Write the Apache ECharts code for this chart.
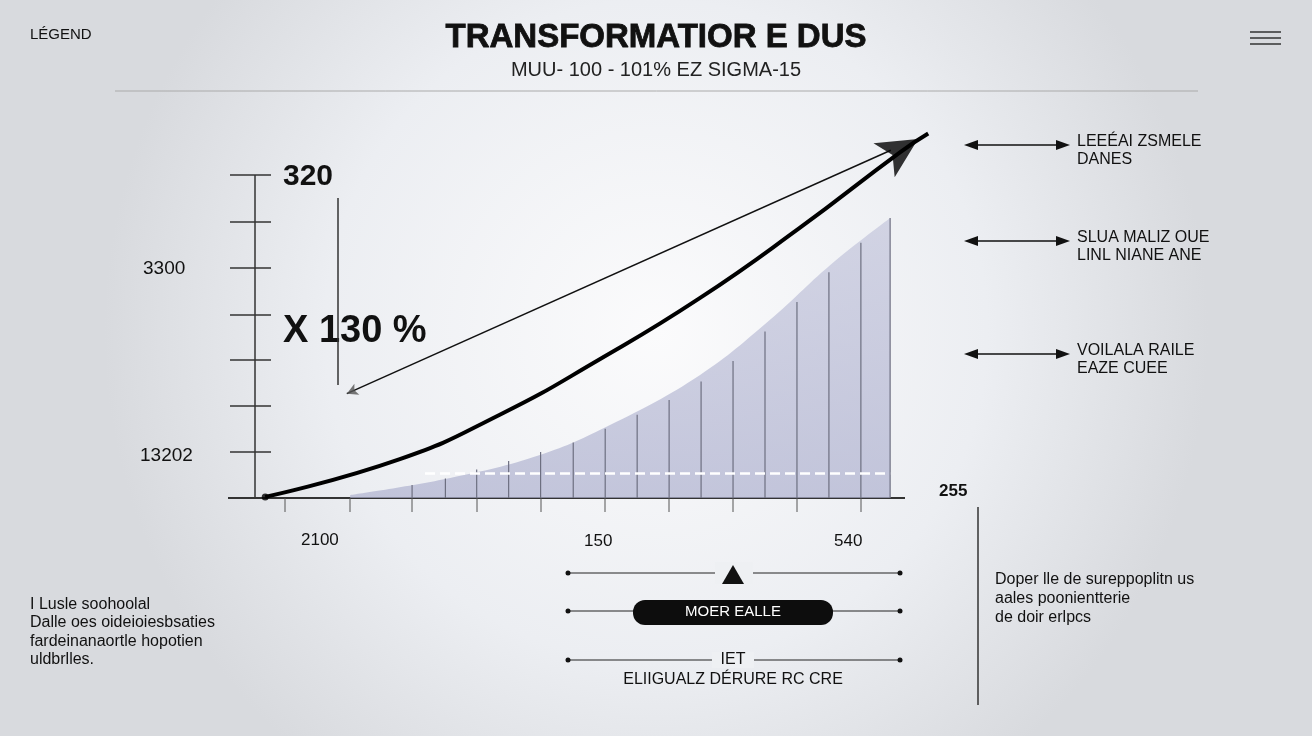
<!DOCTYPE html><html><head><meta charset="utf-8">
<script src="https://cdn.jsdelivr.net/npm/echarts@6/dist/echarts.min.js"></script>
<style>html,body{margin:0;padding:0}#c{width:1312px;height:736px}</style></head><body><div id="c"></div>
<script>
const curveX=[1.5,21.3,36,50.7,65.4,80.1,94.9,99];
const curveY=[0.3,10.5,22.5,37.5,54,73,93.5,98.5];
const areaX=[14,28.7,41.9,52.2,65.4,75.7,84.6,93.4];
const areaY=[0.8,5.4,11.6,19.7,33.2,48.1,63,75.7];
const barX=[23.1,28,32.6,37.3,42,46.8,51.5,56.2,60.9,65.6,70.3,75,79.7,84.4,89.1,93.4];
const barY=[3.5,5.3,7.7,10,12.4,15,18.7,22.5,26.5,31.5,37,45,53,61,69,75.7];
const pointerX=[93.5,13.5];const pointerY=[94,28.2];
const xTicks=['2100','150','540'];
const yTicks=['320','3300','13202'];
const F='Liberation Sans, Arial, sans-serif';
const ch=echarts.init(document.getElementById('c'));
function t(x,y,s,size,w,align,color){return{type:'text',left:x,top:y,style:{text:s,font:(w||'normal')+' '+size+'px '+F,fill:color||'#111',textAlign:align||'left'}};}
function L(x1,y1,x2,y2,w,c){return{type:'line',shape:{x1,y1,x2,y2},style:{stroke:c||'#222',lineWidth:w||1}};}
const g=[];
g.push(t(30,27,'LÉGEND',15));
g.push({type:'text',x:656,y:21,style:{text:'TRANSFORMATIOR E DUS',font:'900 33px '+F,fill:'#111',textAlign:'center',stroke:'#111',lineWidth:0.8}});
g.push({type:'text',x:656,y:60,style:{text:'MUU- 100 - 101% EZ SIGMA-15',font:'20px '+F,fill:'#222',textAlign:'center'}});
g.push(L(115,91,1198,91,1,'#aaa'));
[32,38,44].forEach(y=>g.push(L(1250,y,1281,y,1.5,'#333')));
g.push(L(255,175,255,498,1.5,'#333'));
[175,222,268,315,360,406,452,498].forEach(y=>g.push(L(230,y,271,y,1.5,'#333')));
g.push({type:'text',x:283,y:162,style:{text:yTicks[0],font:'bold 30px '+F,fill:'#111'}});
g.push(t(143,259,yTicks[1],19)); g.push(t(140,446,yTicks[2],19));
g.push({type:'text',x:283,y:313,style:{text:'X 130 %',font:'bold 38px '+F,fill:'#111'}});
g.push(L(338,198,338,385,1.5,'#333'));
g.push(L(228,498,905,498,2,'#333'));
[285,350,412,477,541,605,669,733,797,861].forEach(x=>g.push(L(x,498,x,512,1,'#555')));
g.push(t(301,532,xTicks[0],17));g.push(t(584,533,xTicks[1],17));g.push(t(834,533,xTicks[2],17));
g.push(t(939,483,'255',17,'bold'));
[[145,'LEEÉAI ZSMELE','DANES'],[241,'SLUA MALIZ OUE','LINL NIANE ANE'],[354,'VOILALA RAILE','EAZE CUEE']].forEach(a=>{
 g.push(L(968,a[0],1066,a[0],1.5,'#111'));
 g.push({type:'polygon',shape:{points:[[964,a[0]],[978,a[0]-5],[978,a[0]+5]]},style:{fill:'#111'}});
 g.push({type:'polygon',shape:{points:[[1070,a[0]],[1056,a[0]-5],[1056,a[0]+5]]},style:{fill:'#111'}});
 g.push(t(1077,a[0]-11,a[1],16));g.push(t(1077,a[0]+7,a[2],16));
});
[573,611,660].forEach(y=>{g.push(L(568,y,900,y,1,'#222'));g.push({type:'circle',shape:{cx:568,cy:y,r:2.5},style:{fill:'#111'}});g.push({type:'circle',shape:{cx:900,cy:y,r:2.5},style:{fill:'#111'}});});
g.push({type:'rect',shape:{x:715,y:562,width:38,height:22},style:{fill:'#eef0f3'}});
g.push({type:'polygon',shape:{points:[[733,565],[722,584],[744,584]]},style:{fill:'#111'}});
g.push({type:'rect',shape:{x:633,y:600,width:200,height:25,r:12},style:{fill:'#0d0d0d'}});
g.push({type:'text',x:733,y:604,style:{text:'MOER EALLE',font:'15px '+F,fill:'#fff',textAlign:'center'}});
g.push({type:'rect',shape:{x:712,y:652,width:42,height:16},style:{fill:'#eef0f3'}});
g.push({type:'text',x:733,y:652,style:{text:'IET',font:'16px '+F,fill:'#111',textAlign:'center'}});
g.push({type:'text',x:733,y:672,style:{text:'ELIIGUALZ DÉRURE RC CRE',font:'16px '+F,fill:'#111',textAlign:'center'}});
g.push(L(978,507,978,705,1.5,'#333'));
g.push({type:'text',left:995,top:570,style:{text:'Doper lle de sureppoplitn us\naales poonientterie\nde doir erlpcs',font:'16px '+F,fill:'#111',lineHeight:19}});
g.push({type:'text',left:30,top:595,style:{text:'I Lusle soohoolal\nDalle oes oideioiesbsaties\nfardeinanaortle hopotien\nuldbrlles.',font:'16px '+F,fill:'#111',lineHeight:18.5}});
ch.setOption({
 backgroundColor:{type:'radial',x:0.5,y:0.45,r:0.75,colorStops:[{offset:0,color:'#fbfbfc'},{offset:0.6,color:'#eceef2'},{offset:1,color:'#d8dade'}]},
 animation:false,
 grid:{left:255,top:128,width:680,height:370},
 xAxis:{type:'value',min:0,max:100,show:false},
 yAxis:{type:'value',min:0,max:100,show:false,splitLine:{show:false}},
 graphic:g,
 series:[
  {type:'line',data:areaX.map((x,i)=>[x,areaY[i]]),smooth:0.4,symbol:'none',lineStyle:{width:0},
   areaStyle:{color:{type:'linear',x:0,y:0,x2:0,y2:1,colorStops:[{offset:0,color:'#c4c6dc'},{offset:1,color:'#aeb1cf'}]}},
   markLine:{symbol:'none',silent:true,label:{show:false},lineStyle:{color:'#fff',type:'dashed',width:2.5},data:[[{coord:[25,6.8]},{coord:[93.4,6.8]}]]}},
  {type:'bar',data:barX.map((x,i)=>[x,barY[i]]),barWidth:1.2,itemStyle:{color:'#6d6f80'},z:3},
  {type:'line',data:pointerX.map((x,i)=>[x,pointerY[i]]),symbol:'none',lineStyle:{color:'#111',width:1.5},z:4},
  {type:'line',data:curveX.map((x,i)=>[x,curveY[i]]),smooth:true,symbol:'none',lineStyle:{color:'#000',width:4},z:5},
  {type:'scatter',data:[[1.5,0.3]],symbol:'circle',symbolSize:7,itemStyle:{color:'#000'},z:6},
  {type:'scatter',data:[[97.5,97]],symbol:'arrow',symbolSize:[30,40],symbolRotate:-58,itemStyle:{color:'#000'},z:6},
  {type:'scatter',data:[[13.5,28.2]],symbol:'arrow',symbolSize:[9,11],symbolRotate:114,itemStyle:{color:'#555'},z:6}
 ]
});
</script></body></html>
